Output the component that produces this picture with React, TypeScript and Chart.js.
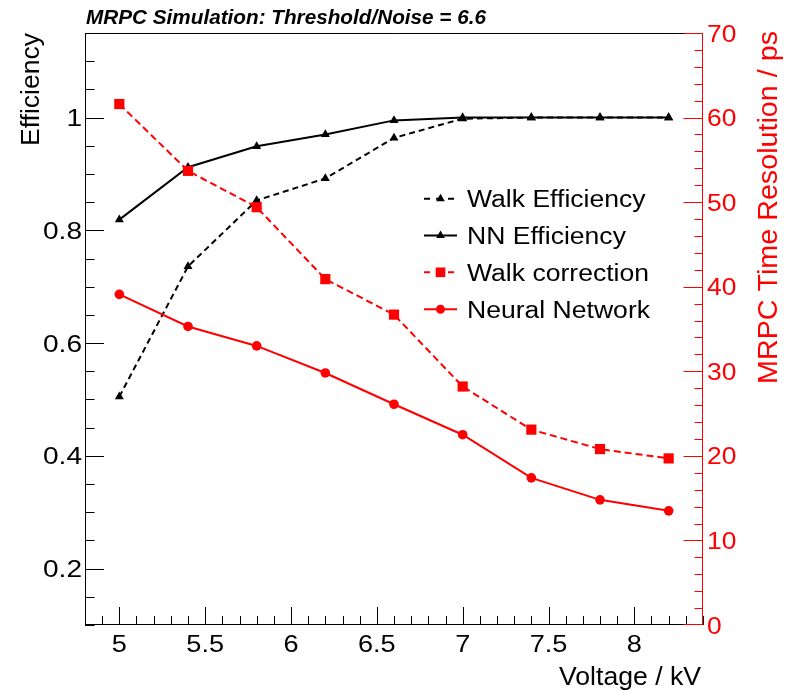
import React, { useEffect, useRef } from "react";
import { Chart, registerables } from "chart.js";

Chart.register(...registerables);

// ---------- data ----------
const voltage = [5.0, 5.4, 5.8, 6.2, 6.6, 7.0, 7.4, 7.8, 8.2];
const walkEfficiency = [0.505, 0.736, 0.853, 0.892, 0.964, 0.998, 1.0, 1.0, 1.0];
const nnEfficiency = [0.819, 0.912, 0.949, 0.97, 0.995, 1.0, 1.0, 1.0, 1.0];
const walkCorrection = [61.6, 53.7, 49.4, 40.9, 36.7, 28.2, 23.1, 20.8, 19.7];
const neuralNetwork = [39.1, 35.3, 33.0, 29.8, 26.1, 22.5, 17.4, 14.8, 13.5];

const seriesNames = ["Walk Efficiency", "NN Efficiency", "Walk correction", "Neural Network"];

const xMajorTicks = [5, 5.5, 6, 6.5, 7, 7.5, 8];
const xTickLabels = ["5", "5.5", "6", "6.5", "7", "7.5", "8"];
const effMajorTicks = [0.2, 0.4, 0.6, 0.8, 1];
const effTickLabels = ["0.2", "0.4", "0.6", "0.8", "1"];
const resMajorTicks = [0, 10, 20, 30, 40, 50, 60, 70];
const resTickLabels = ["0", "10", "20", "30", "40", "50", "60", "70"];

const chartTitle = "MRPC Simulation: Threshold/Noise = 6.6";
const xTitle = "Voltage / kV";
const yTitle = "Efficiency";
const y2Title = "MRPC Time Resolution / ps";

// ---------- styles ----------
const FF = "'Liberation Sans', Arial, Helvetica, sans-serif";
const RED = "#ff0000";
const BLACK = "#000000";

function fitText(
  ctx: CanvasRenderingContext2D,
  s: string,
  x: number,
  y: number,
  font: string,
  color: string,
  align: CanvasTextAlign,
  width: number | null,
  sx: number,
  rot: number
) {
  ctx.save();
  ctx.font = font;
  let k = sx;
  if (width) k = width / ctx.measureText(s).width;
  ctx.translate(x, y);
  if (rot) ctx.rotate(rot);
  ctx.scale(k, 1);
  ctx.fillStyle = color;
  ctx.textAlign = align;
  ctx.textBaseline = "alphabetic";
  ctx.fillText(s, 0, 0);
  ctx.restore();
}

function drawMarker(ctx: CanvasRenderingContext2D, style: string, x: number, y: number, r: number, color: string) {
  ctx.save();
  ctx.fillStyle = color;
  ctx.beginPath();
  if (style === "triangle") {
    ctx.moveTo(x, y - r);
    ctx.lineTo(x + r * 0.866, y + r * 0.5);
    ctx.lineTo(x - r * 0.866, y + r * 0.5);
    ctx.closePath();
  } else if (style === "rect") {
    const h = r * Math.SQRT1_2;
    ctx.rect(x - h, y - h, 2 * h, 2 * h);
  } else {
    ctx.arc(x, y, r, 0, Math.PI * 2);
  }
  ctx.fill();
  ctx.restore();
}

const rootAxes = {
  id: "rootAxes",
  afterDraw(chart: any) {
    const ctx: CanvasRenderingContext2D = chart.ctx;
    const { left, right, top, bottom } = chart.chartArea;
    const xs = chart.scales.x;
    const ys = chart.scales.y;
    const y2 = chart.scales.y2;
    ctx.save();
    // frame
    ctx.strokeStyle = BLACK;
    ctx.lineWidth = 1;
    ctx.beginPath();
    ctx.moveTo(right, top + 0.5);
    ctx.lineTo(left + 0.5, top + 0.5);
    ctx.lineTo(left + 0.5, bottom - 0.5);
    ctx.lineTo(right, bottom - 0.5);
    ctx.stroke();

    // x ticks
    ctx.beginPath();
    for (let i = 48; i <= 84; i++) {
      const v = i / 10;
      const px = Math.round(xs.getPixelForValue(v)) + 0.5;
      const major = i % 5 === 0;
      ctx.moveTo(px, bottom);
      ctx.lineTo(px, bottom - (major ? 18 : 9));
    }
    ctx.stroke();
    // left ticks
    ctx.beginPath();
    for (let i = 2; i <= 23; i++) {
      const v = i * 0.05;
      const py = Math.round(ys.getPixelForValue(v)) + 0.5;
      const major = i % 4 === 0;
      ctx.moveTo(left, py);
      ctx.lineTo(left + (major ? 19 : 9.5), py);
    }
    ctx.stroke();

    // right axis (red)
    ctx.strokeStyle = RED;
    ctx.beginPath();
    const ax = right - 0.5;
    ctx.moveTo(ax, top);
    ctx.lineTo(ax, bottom);
    for (let v = 0; v <= 70; v += 2) {
      const py = Math.min(bottom - 0.5, Math.max(top + 0.5, Math.round(y2.getPixelForValue(v)) + 0.5));
      const major = v % 10 === 0;
      ctx.moveTo(ax, py);
      ctx.lineTo(ax - (major ? 19 : 8), py);
    }
    ctx.stroke();

    // tick labels
    const tickFont = `24px ${FF}`;
    xMajorTicks.forEach((v, i) => {
      fitText(ctx, xTickLabels[i], xs.getPixelForValue(v), bottom + 27, tickFont, BLACK, "center", null, 1.13, 0);
    });
    effMajorTicks.forEach((v, i) => {
      fitText(ctx, effTickLabels[i], left - 3, ys.getPixelForValue(v) + 8.6, tickFont, BLACK, "right", null, 1.17, 0);
    });
    resMajorTicks.forEach((v, i) => {
      fitText(ctx, resTickLabels[i], right + 4, y2.getPixelForValue(v) + 8.5, tickFont, RED, "left", null, 1.1, 0);
    });

    // titles
    fitText(ctx, chartTitle, left + 1, 24, `italic bold 19.5px ${FF}`, BLACK, "left", 400, 1, 0);
    fitText(ctx, xTitle, right - 2, 685, `26.5px ${FF}`, BLACK, "right", 142, 1, 0);
    fitText(ctx, yTitle, 39, top, `26.5px ${FF}`, BLACK, "right", 113, 1, -Math.PI / 2);
    fitText(ctx, y2Title, 777, top - 2, `27px ${FF}`, RED, "right", 353, 1, -Math.PI / 2);

    // legend
    const ds = chart.data.datasets;
    const rows = [198.7, 235.5, 272.3, 309.2];
    ds.forEach((d: any, i: number) => {
      const cy = rows[i];
      ctx.save();
      ctx.strokeStyle = d.borderColor;
      ctx.lineWidth = 2;
      ctx.setLineDash(d.borderDash && d.borderDash.length ? [6, 6] : []);
      ctx.beginPath();
      ctx.moveTo(424, cy);
      ctx.lineTo(457, cy);
      ctx.stroke();
      ctx.restore();
      drawMarker(ctx, d.pointStyle, 440.5, cy, d.pointStyle === "rect" ? 6.8 : d.pointStyle === "triangle" ? 5 : 4.5, d.borderColor);
      fitText(ctx, d.label, 467, cy + 8.3, `23.3px ${FF}`, BLACK, "left", null, 1.14, 0);
    });
    ctx.restore();
  },
};

export default function App() {
  const ref = useRef<HTMLCanvasElement | null>(null);
  useEffect(() => {
    if (!ref.current) return;
    const pts = (ys: number[]) => voltage.map((x, i) => ({ x, y: ys[i] }));
    const chart = new Chart(ref.current, {
      type: "line",
      data: {
        datasets: [
          {
            label: seriesNames[0],
            data: pts(walkEfficiency),
            yAxisID: "y",
            borderColor: BLACK,
            backgroundColor: BLACK,
            borderWidth: 2,
            borderDash: [6, 4],
            pointStyle: "triangle",
            pointRadius: 5.2,
            pointBorderWidth: 0,
            pointBackgroundColor: BLACK,
            order: 3,
          },
          {
            label: seriesNames[1],
            data: pts(nnEfficiency),
            yAxisID: "y",
            borderColor: BLACK,
            backgroundColor: BLACK,
            borderWidth: 2,
            pointStyle: "triangle",
            pointRadius: 5.2,
            pointBorderWidth: 0,
            pointBackgroundColor: BLACK,
            order: 2,
          },
          {
            label: seriesNames[2],
            data: pts(walkCorrection),
            yAxisID: "y2",
            borderColor: RED,
            backgroundColor: RED,
            borderWidth: 2,
            borderDash: [7, 4],
            pointStyle: "rect",
            pointRadius: 7.2,
            pointBorderWidth: 0,
            pointBackgroundColor: RED,
            order: 1,
          },
          {
            label: seriesNames[3],
            data: pts(neuralNetwork),
            yAxisID: "y2",
            borderColor: RED,
            backgroundColor: RED,
            borderWidth: 2,
            pointStyle: "circle",
            pointRadius: 4.8,
            pointBorderWidth: 0,
            pointBackgroundColor: RED,
            order: 0,
          },
        ],
      },
      options: {
        responsive: false,
        devicePixelRatio: 1,
        animation: false,
        events: [],
        layout: { padding: { left: 85, right: 86, top: 33, bottom: 65 } },
        plugins: { legend: { display: false }, tooltip: { enabled: false }, title: { display: false } },
        elements: { line: { tension: 0, fill: false } },
        scales: {
          x: { type: "linear", min: 4.8, max: 8.4, display: false },
          y: { type: "linear", min: 0.1, max: 1.15, display: false },
          y2: { type: "linear", position: "right", min: 0, max: 70, display: false },
        },
      },
      plugins: [rootAxes],
    } as any);
    return () => chart.destroy();
  }, []);
  return (
    <div style={{ position: "fixed", left: 0, top: 0, width: 789, height: 690, background: "#fff" }}>
      <canvas ref={ref} width={789} height={690} style={{ width: 789, height: 690, display: "block" }} />
    </div>
  );
}
